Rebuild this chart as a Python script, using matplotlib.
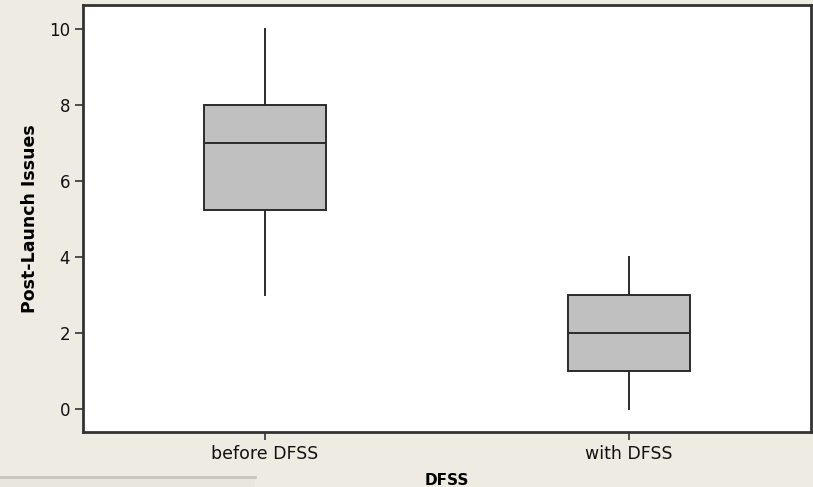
import matplotlib.pyplot as plt
from matplotlib.patches import Rectangle

# box summaries
groups = ["before DFSS", "with DFSS"]
whisker_low = [3, 0]
q1 = [5.25, 1]
medians = [7, 2]
q3 = [8, 3]
whisker_high = [10, 4]

bg = "#EEEBE2"
edge = "#2b2b2b"

fig = plt.figure(figsize=(8.13, 4.87), dpi=100, facecolor=bg)
ax = fig.add_axes([0.1017, 0.1129, 0.8963, 0.8768])
ax.set_facecolor("white")

stats = []
for i in range(len(groups)):
    stats.append({"label": groups[i], "whislo": whisker_low[i], "q1": q1[i],
                  "med": medians[i], "q3": q3[i], "whishi": whisker_high[i]})

ax.bxp(stats, positions=[1, 2], widths=0.335, patch_artist=True,
       showfliers=False, showcaps=False,
       boxprops=dict(facecolor="#C0C0C0", edgecolor=edge, linewidth=1.4),
       medianprops=dict(color=edge, linewidth=1.4),
       whiskerprops=dict(color=edge, linewidth=1.4))

ax.set_xlim(0.5, 2.5)
ax.set_ylim(-0.6, 10.63)
ax.set_yticks([0, 2, 4, 6, 8, 10])

for s in ax.spines.values():
    s.set_linewidth(2)
    s.set_color("#333333")

ax.tick_params(axis="both", direction="out", length=6, width=1.2,
               color="#333333", labelsize=12, labelcolor="#111111")
ax.tick_params(axis="x", pad=3, labelsize=12.5)
ax.tick_params(axis="y", pad=3)

ax.set_xlabel("DFSS", fontsize=11, fontweight="bold", labelpad=7.5)
ax.set_ylabel("Post-Launch Issues", fontsize=12.5, fontweight="bold", labelpad=7)

# window strip at the bottom left of the screenshot
fig.patches.append(Rectangle((0, 0), 255 / 813, 10 / 487, transform=fig.transFigure,
                             facecolor="#E9E6DF", edgecolor="none"))
fig.lines.append(plt.Line2D([0, 255 / 813], [10 / 487, 10 / 487],
                            transform=fig.transFigure, color="#C9C5BC", linewidth=2))

fig.savefig("out.png", dpi=100, facecolor=bg)
